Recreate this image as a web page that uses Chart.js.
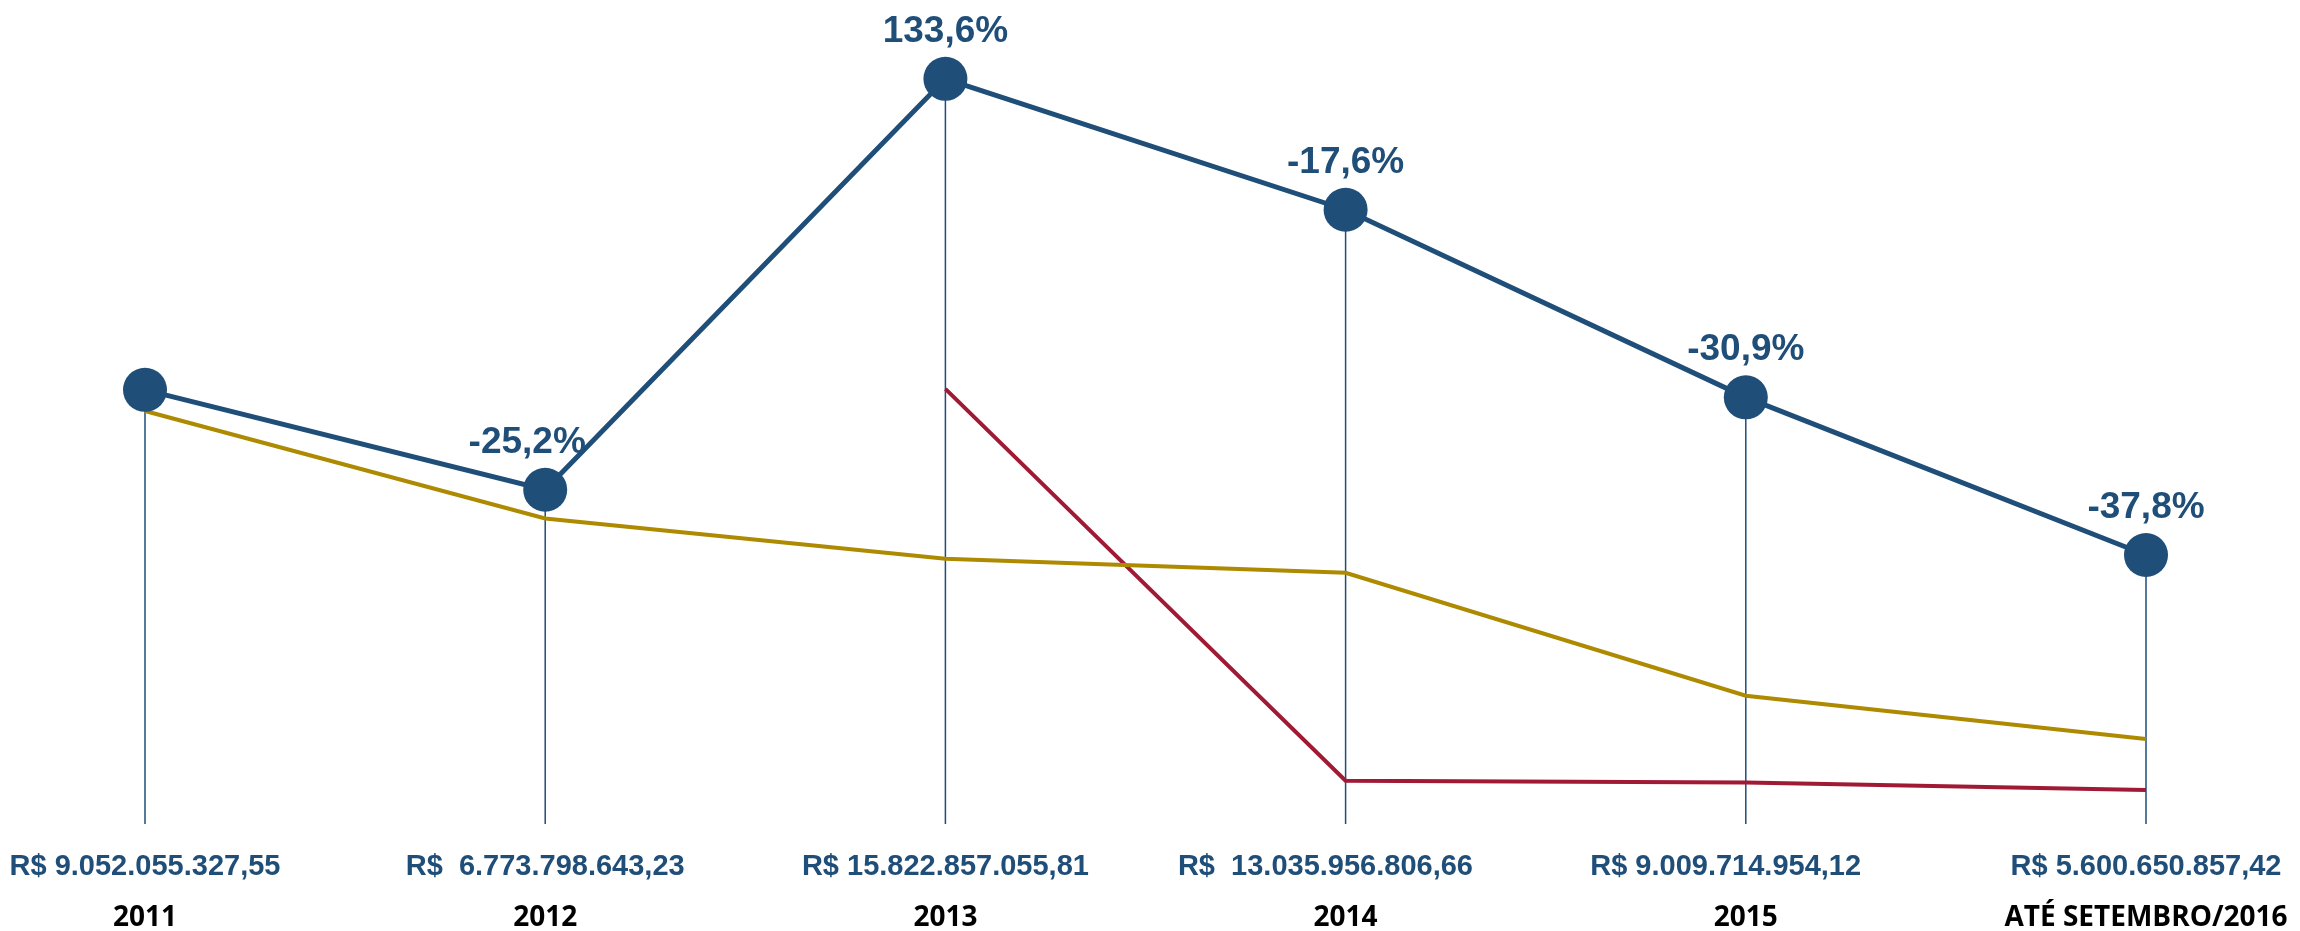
<!DOCTYPE html>
<html>
<head>
<meta charset="utf-8">
<script src="https://cdn.jsdelivr.net/npm/chart.js@4"></script>
<style>
  html, body { margin: 0; padding: 0; background: #ffffff; }
  canvas { display: block; }
</style>
</head>
<body>
<canvas id="chart" width="2300" height="931"></canvas>
<script>
// Categories and labels
var years = ["2011", "2012", "2013", "2014", "2015", "ATÉ SETEMBRO/2016"];
var totals = [
  "R$ 9.052.055.327,55",
  "R$  6.773.798.643,23",
  "R$ 15.822.857.055,81",
  "R$  13.035.956.806,66",
  "R$ 9.009.714.954,12",
  "R$ 5.600.650.857,42"
];
var variations = [null, "-25,2%", "133,6%", "-17,6%", "-30,9%", "-37,8%"];

// Series (billions of R$)
var blue_values = [9.19, 7.06, 15.82, 13.03, 9.03, 5.67];
var gold_values = [8.74, 6.45, 5.59, 5.29, 2.67, 1.75];
var red_values = [null, null, 9.21, 0.86, 0.82, 0.66];

var BLUE = "#1F4E79";
var GOLD = "#AD8A00";
var RED = "#A01A35";

// label nudges: -25,2% sits left of its point, and the 2014/2015 totals
// are set a little left of their year (trailing spaces shift centred text)
var label_dx = [0, -18, 0, 0, 0, 0];
var total_trailing = [0, 0, 0, 5, 5, 0];

// thin vertical line from each blue point down to the base
var dropLines = {
  id: "dropLines",
  beforeDatasetsDraw: function (chart) {
    var ctx = chart.ctx;
    var bottom = chart.chartArea.bottom;
    ctx.save();
    ctx.strokeStyle = BLUE;
    ctx.lineWidth = 1.5;
    chart.getDatasetMeta(0).data.forEach(function (pt) {
      ctx.beginPath();
      ctx.moveTo(pt.x, pt.y);
      ctx.lineTo(pt.x, bottom + 3);
      ctx.stroke();
    });
    ctx.restore();
  }
};

// percentage above each point
var variationLabels = {
  id: "variationLabels",
  afterDatasetsDraw: function (chart) {
    var ctx = chart.ctx;
    ctx.save();
    ctx.fillStyle = BLUE;
    ctx.font = "bold 37px 'Liberation Sans', Arial, sans-serif";
    ctx.textAlign = "center";
    ctx.textBaseline = "alphabetic";
    chart.getDatasetMeta(0).data.forEach(function (pt, i) {
      if (variations[i]) {
        ctx.fillText(variations[i], pt.x + label_dx[i], pt.y - 37);
      }
    });
    ctx.restore();
  }
};

// fixed axis heights, no label overflow padding
function fixAxis(height) {
  return function (scale) {
    scale.height = height;
    scale.paddingLeft = 0;
    scale.paddingRight = 0;
  };
}

new Chart(document.getElementById("chart"), {
  type: "line",
  data: {
    labels: years,
    datasets: [
      {
        data: blue_values,
        borderColor: BLUE,
        borderWidth: 5,
        backgroundColor: BLUE,
        pointBackgroundColor: BLUE,
        pointBorderColor: BLUE,
        pointRadius: 22,
        pointBorderWidth: 0,
        tension: 0,
        clip: false,
        xAxisID: "x"
      },
      {
        data: gold_values,
        borderColor: GOLD,
        borderWidth: 4,
        pointRadius: 0,
        tension: 0,
        clip: false,
        xAxisID: "x"
      },
      {
        data: red_values,
        borderColor: RED,
        borderWidth: 4,
        pointRadius: 0,
        tension: 0,
        clip: false,
        xAxisID: "x"
      }
    ]
  },
  options: {
    responsive: false,
    animation: false,
    devicePixelRatio: 1,
    layout: { autoPadding: false, padding: { left: 145, right: 154, top: 0, bottom: 0 } },
    plugins: {
      legend: { display: false },
      tooltip: { enabled: false }
    },
    scales: {
      x: {
        type: "category",
        position: "bottom",
        weight: 0,
        labels: totals,
        grid: { display: false, drawTicks: false },
        border: { display: false },
        afterFit: fixAxis(60),
        ticks: {
          color: BLUE,
          padding: 29,
          maxRotation: 0,
          autoSkip: false,
          callback: function (value, index) {
            return totals[index] + " ".repeat(total_trailing[index]);
          },
          font: { family: "'Liberation Sans', Arial, sans-serif", size: 29, weight: "bold" }
        }
      },
      xYears: {
        type: "category",
        position: "bottom",
        weight: 1,
        labels: years,
        grid: { display: false, drawTicks: false },
        border: { display: false },
        afterFit: fixAxis(50),
        ticks: {
          color: "#000000",
          padding: 20,
          maxRotation: 0,
          autoSkip: false,
          font: { family: "'Open Sans', sans-serif", size: 28, weight: "bold" }
        }
      },
      y: {
        display: false,
        min: 0,
        max: 17.5
      }
    }
  },
  plugins: [dropLines, variationLabels]
});
</script>
</body>
</html>
